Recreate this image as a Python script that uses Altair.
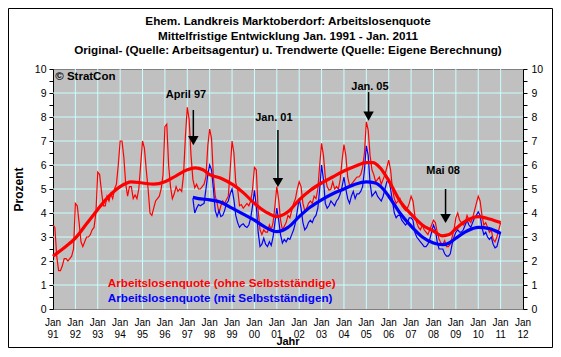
import altair as alt
import pandas as pd

# ---------------- data ----------------
red_start = 1991.0  # Jan 1991, monthly values (ohne Selbststaendige)
red_monthly = [
    3.5, 3.4, 2.2, 1.6, 1.6, 1.8, 2.1, 2.1, 2.0, 2.1, 2.2, 2.5,    # 1991
    4.4, 4.3, 3.6, 2.8, 2.6, 2.8, 3.0, 3.0, 3.1, 3.3, 3.4, 4.0,    # 1992
    5.7, 5.6, 4.9, 4.3, 4.3, 4.7, 4.5, 4.8, 4.6, 5.0, 5.2, 6.0,    # 1993
    7.0, 7.0, 6.3, 5.2, 4.7, 5.1, 5.1, 4.6, 4.75, 4.6, 5.0, 6.0,   # 1994
    7.0, 6.7, 5.8, 5.0, 4.0, 3.9, 4.2, 4.5, 4.6, 4.7, 5.0, 5.6,    # 1995
    7.6, 7.7, 6.0, 5.1, 4.6, 4.8, 5.1, 4.9, 5.0, 4.9, 5.6, 7.2,    # 1996
    8.4, 7.9, 6.4, 5.4, 5.05, 5.2, 5.0, 5.0, 5.1, 5.2, 5.5, 6.8,   # 1997
    7.5, 7.1, 5.5, 4.7, 4.4, 4.0, 4.3, 4.5, 4.4, 4.55, 4.7, 5.8,   # 1998
    7.0, 6.5, 5.25, 5.0, 4.3, 4.35, 4.2, 4.3, 4.4, 4.3, 4.5, 5.0,  # 1999
    5.9, 5.8, 4.1, 3.3, 3.1, 3.3, 3.2, 3.2, 3.5, 3.3, 3.6, 4.3,    # 2000
    5.1, 4.55, 3.7, 3.3, 3.45, 3.6, 3.9, 3.8, 4.1, 4.4, 4.6, 5.0,  # 2001
    5.3, 5.1, 4.4, 4.1, 4.2, 4.4, 4.5, 4.4, 4.7, 4.6, 5.0, 6.0,    # 2002
    6.9, 6.4, 5.5, 5.1, 4.95, 5.0, 5.3, 5.0, 5.1, 5.0, 5.4, 6.2,   # 2003
    6.85, 6.4, 5.5, 5.15, 5.2, 5.3, 5.4, 5.5, 5.5, 5.6, 5.9, 6.5,  # 2004
    7.8, 7.45, 6.4, 5.8, 5.6, 5.3, 5.4, 5.5, 5.2, 5.4, 5.6, 5.9,   # 2005
    6.2, 5.8, 5.0, 4.6, 4.4, 4.5, 4.6, 4.3, 4.2, 4.1, 4.2, 4.4,    # 2006
    4.7, 4.5, 3.9, 3.6, 3.4, 3.3, 3.5, 3.3, 3.2, 3.1, 3.3, 3.5,    # 2007
    3.7, 3.6, 3.2, 2.9, 2.75, 2.7, 2.85, 2.6, 2.6, 2.7, 3.0, 3.3,  # 2008
    3.8, 4.0, 3.7, 3.6, 3.5, 3.6, 3.9, 3.7, 3.6, 3.8, 4.1, 4.4,    # 2009
    4.7, 4.5, 3.9, 3.5, 3.6, 3.4, 3.2, 3.3, 2.9, 2.8, 3.0, 3.3,    # 2010
    3.6,                                                           # Jan 2011
]

blue_start = 1997.25  # Apr 1997, monthly values (mit Selbststaendigen)
blue_monthly = [
    4.6, 4.0, 4.2, 4.35, 4.3, 4.35, 4.4, 5.0, 5.6,                 # 1997 Apr-Dec
    6.0, 5.8, 5.0, 4.1, 3.85, 4.1, 3.85, 3.9, 4.1, 4.4, 4.5, 4.8,  # 1998
    5.0, 4.55, 3.9, 3.6, 3.4, 3.5, 3.55, 3.45, 3.4, 3.5, 3.8, 4.3, # 1999
    4.95, 4.3, 3.2, 2.6, 2.7, 2.95, 2.7, 2.6, 2.8, 2.65, 3.0, 3.6, # 2000
    4.2, 3.7, 3.1, 2.75, 2.9, 2.8, 2.95, 2.9, 3.1, 3.3, 3.6, 4.1,  # 2001
    4.6, 4.2, 3.6, 3.3, 3.4, 3.6, 3.7, 3.6, 3.8, 3.9, 4.2, 5.0,    # 2002
    6.0, 5.4, 4.4, 4.2, 4.3, 4.5, 4.4, 4.3, 4.5, 4.6, 4.8, 5.1,    # 2003
    5.5, 5.0, 4.6, 4.4, 4.7, 4.9, 4.6, 4.8, 4.8, 4.9, 5.1, 5.8,    # 2004
    6.8, 6.4, 5.25, 4.7, 4.8, 4.9, 4.7, 4.6, 4.5, 4.7, 5.0, 5.3,   # 2005
    5.4, 5.0, 4.5, 4.0, 3.8, 3.9, 3.9, 3.7, 3.6, 3.5, 3.6, 3.8,    # 2006
    3.8, 3.7, 3.2, 3.0, 2.9, 2.8, 2.7, 2.6, 2.6, 2.7, 2.9, 3.2,    # 2007
    3.5, 3.3, 2.8, 2.5, 2.5, 2.5, 2.3, 2.2, 2.2, 2.3, 2.7, 3.0,    # 2008
    3.2, 3.3, 3.2, 3.2, 3.3, 3.5, 3.7, 3.5, 3.4, 3.6, 3.8, 3.9,    # 2009
    4.05, 3.9, 3.4, 3.1, 3.2, 3.0, 2.9, 3.0, 2.7, 2.55, 2.6, 2.9,  # 2010
    3.2,                                                           # Jan 2011
]

red_trend_x = [1991.0, 1991.5, 1992.0, 1992.5, 1993.0, 1993.5, 1994.0, 1994.5,
               1995.0, 1995.5, 1996.0, 1996.5, 1997.0, 1997.35, 1997.7, 1998.0,
               1998.5, 1999.0, 1999.5, 2000.0, 2000.5, 2001.0, 2001.5, 2002.0,
               2002.5, 2003.0, 2003.5, 2004.0, 2004.5, 2005.0, 2005.3, 2005.6,
               2006.0, 2006.5, 2007.0, 2007.5, 2008.0, 2008.4, 2008.7, 2009.0,
               2009.5, 2010.0, 2010.5, 2011.0]
red_trend_y = [2.2, 2.55, 2.95, 3.55, 4.15, 4.7, 5.1, 5.3,
               5.25, 5.2, 5.3, 5.55, 5.8, 5.88, 5.8, 5.6,
               5.45, 5.2, 4.85, 4.4, 4.05, 3.85, 4.05, 4.55,
               4.95, 5.25, 5.5, 5.75, 5.95, 6.1, 6.1, 5.9,
               5.35, 4.5, 3.95, 3.5, 3.25, 3.05, 3.1, 3.35,
               3.7, 3.85, 3.75, 3.6]

blue_trend_x = [1997.25, 1997.5, 1998.0, 1998.5, 1999.0, 1999.5, 2000.0, 2000.5,
                2001.0, 2001.5, 2002.0, 2002.5, 2003.0, 2003.5, 2004.0, 2004.5,
                2005.0, 2005.4, 2005.75, 2006.0, 2006.5, 2007.0, 2007.5, 2008.0,
                2008.4, 2008.7, 2009.0, 2009.5, 2010.0, 2010.5, 2011.0]
blue_trend_y = [4.65, 4.6, 4.55, 4.45, 4.2, 3.95, 3.7, 3.4,
                3.22, 3.4, 3.85, 4.25, 4.55, 4.8, 5.0, 5.2,
                5.3, 5.25, 5.0, 4.7, 4.0, 3.45, 3.0, 2.75,
                2.68, 2.75, 2.95, 3.25, 3.4, 3.35, 3.15]

x_ticks = list(range(1991, 2013))
x_label_top = ["Jan"] * len(x_ticks)
x_label_bottom = ["91", "92", "93", "94", "95", "96", "97", "98", "99", "00", "01",
                  "02", "03", "04", "05", "06", "07", "08", "09", "10", "11", "12"]
y_ticks = [i / 2 for i in range(21)]
grid_years = list(range(1992, 2012))
grid_values = list(range(1, 10))

ann_labels = ["April 97", "Jan. 01", "Jan. 05", "Mai 08"]
ann_text_x = [1996.94, 2000.87, 2005.16, 2008.43]
ann_text_y = [8.92, 7.96, 9.25, 5.75]
arrow_x = [1997.27, 2001.05, 2005.1, 2008.54]
arrow_top = [8.29, 7.46, 9.04, 5.0]
arrow_base = [7.2, 5.46, 8.2, 3.96]
arrow_tip = [6.83, 5.08, 7.875, 3.58]

title_lines = ["Ehem. Landkreis Marktoberdorf: Arbeitslosenquote",
               "Mittelfristige Entwicklung Jan. 1991 - Jan. 2011",
               "Original- (Quelle: Arbeitsagentur) u. Trendwerte (Quelle: Eigene Berechnung)"]
x_title = "Jahr"
legend_labels = ["Arbeitslosenquote (ohne Selbstständige)",
                 "Arbeitslosenquote (mit Selbstständigen)"]
legend_colors = ["#FF0000", "#0000FF"]
legend_x = [1993.45, 1993.45]
legend_y = [1.08, 0.46]
copyright_text = ["© StratCon"]
copyright_x = [1991.1]
copyright_y = [9.67]

# ---------------- frames ----------------
df_red = pd.DataFrame({"x": [red_start + i / 12 for i in range(len(red_monthly))], "y": red_monthly})
df_blue = pd.DataFrame({"x": [blue_start + i / 12 for i in range(len(blue_monthly))], "y": blue_monthly})
df_rt = pd.DataFrame({"x": red_trend_x, "y": red_trend_y})
df_bt = pd.DataFrame({"x": blue_trend_x, "y": blue_trend_y})
df_ann = pd.DataFrame({"label": ann_labels, "tx": ann_text_x, "ty": ann_text_y,
                       "ax": arrow_x, "top": arrow_top, "base": arrow_base,
                       "head": [(b + t) / 2 for b, t in zip(arrow_base, arrow_tip)]})
df_leg = pd.DataFrame({"label": legend_labels, "x": legend_x, "y": legend_y, "c": legend_colors})
df_copy = pd.DataFrame({"label": copyright_text, "x": copyright_x, "y": copyright_y})
df_xlab = pd.DataFrame({"x": x_ticks, "top": x_label_top, "bottom": x_label_bottom})

FONT = "Liberation Sans"
xs = alt.Scale(domain=[1991, 2012], nice=False, zero=False)
ys = alt.Scale(domain=[0, 10], nice=False, zero=True)

X_none = alt.X("x:Q", scale=xs, axis=None)
Y_none = alt.Y("y:Q", scale=ys, axis=None)

x_axis = alt.Axis(values=x_ticks, grid=False, tickSize=5, tickColor="black",
                  domainColor="black", labels=False, title=None)
y_left = alt.Axis(values=y_ticks, grid=False, tickSize=4, tickColor="black",
                  domainColor="black", labelColor="black", labelFontSize=10.5,
                  labelFont=FONT, labelPadding=3,
                  labelExpr="datum.value % 1 == 0 ? format(datum.value, 'd') : ''",
                  title="Prozent", titleFont=FONT, titleFontSize=12, titleFontWeight="bold",
                  titleColor="black", titleX=-35, titleY=120, titleAngle=270,
                  titleAlign="center", titleBaseline="middle")
y_right = alt.Axis(orient="right", values=y_ticks, grid=False, tickSize=4, tickColor="black",
                   domainColor="black", labelColor="black", labelFontSize=10.5,
                   labelFont=FONT, labelPadding=4,
                   labelExpr="datum.value % 1 == 0 ? format(datum.value, 'd') : ''", title=None)

grid_v = alt.Chart(pd.DataFrame({"x": grid_years})).mark_rule(
    color="#C8FFFF", strokeWidth=1).encode(x=alt.X("x:Q", scale=xs, axis=x_axis))
grid_h = alt.Chart(pd.DataFrame({"y": grid_values})).mark_rule(
    color="#C8FFFF", strokeWidth=1).encode(y=alt.Y("y:Q", scale=ys, axis=y_left))

red_line = alt.Chart(df_red).mark_line(color="#FF0000", strokeWidth=1.2).encode(
    x=X_none, y=Y_none)
blue_line = alt.Chart(df_blue).mark_line(color="#0000FF", strokeWidth=1.2).encode(
    x=X_none, y=alt.Y("y:Q", scale=ys, axis=y_right))
red_trend = alt.Chart(df_rt).mark_line(color="#FF0000", strokeWidth=3.2,
                                       interpolate="monotone").encode(x=X_none, y=Y_none)
blue_trend = alt.Chart(df_bt).mark_line(color="#0000FF", strokeWidth=3.2,
                                        interpolate="monotone").encode(x=X_none, y=Y_none)

arrows = alt.Chart(df_ann).mark_rule(color="black", strokeWidth=1.5).encode(
    x=alt.X("ax:Q", scale=xs, axis=None),
    y=alt.Y("top:Q", scale=ys, axis=None), y2="base:Q")
heads = alt.Chart(df_ann).mark_point(shape="triangle-down", filled=True, color="black",
                                     opacity=1, size=110).encode(
    x=alt.X("ax:Q", scale=xs, axis=None), y=alt.Y("head:Q", scale=ys, axis=None))
ann_text = alt.Chart(df_ann).mark_text(font=FONT, fontSize=11, fontWeight="bold",
                                       color="black", align="center", baseline="middle").encode(
    x=alt.X("tx:Q", scale=xs, axis=None), y=alt.Y("ty:Q", scale=ys, axis=None), text="label:N")
leg_text = alt.Chart(df_leg).mark_text(font=FONT, fontSize=11.7, fontWeight="bold",
                                       align="left", baseline="middle").encode(
    x=alt.X("x:Q", scale=xs, axis=None), y=alt.Y("y:Q", scale=ys, axis=None),
    text="label:N", color=alt.Color("c:N", scale=None))
copy_text = alt.Chart(df_copy).mark_text(font=FONT, fontSize=11.5, fontWeight="bold",
                                         color="black", align="left", baseline="middle").encode(
    x=alt.X("x:Q", scale=xs, axis=None), y=alt.Y("y:Q", scale=ys, axis=None), text="label:N")

# x tick labels ("Jan" / "91") drawn through the x scale, below the plot area
xlab_top = alt.Chart(df_xlab).mark_text(font=FONT, fontSize=10, color="black",
                                        align="center", baseline="middle").encode(
    x=alt.X("x:Q", scale=xs, axis=None), y=alt.value(254), text="top:N")
xlab_bottom = alt.Chart(df_xlab).mark_text(font=FONT, fontSize=10, color="black",
                                           align="center", baseline="middle").encode(
    x=alt.X("x:Q", scale=xs, axis=None), y=alt.value(266), text="bottom:N")
xtitle = alt.Chart(pd.DataFrame({"k": [0]})).mark_text(
    text=x_title, font=FONT, fontSize=11, fontWeight="bold", color="black",
    align="center", baseline="middle").encode(x=alt.value(235), y=alt.value(273))

title_text = alt.Chart(pd.DataFrame({"k": [0]})).mark_text(
    text=title_lines, font=FONT, fontSize=11.7, fontWeight="bold", color="black",
    align="center", baseline="middle", lineHeight=14.5).encode(
    x=alt.value(235), y=alt.value(-48))

border = alt.Chart(pd.DataFrame({"k": [0]})).mark_rect(
    fill=None, fillOpacity=0, stroke="black", strokeWidth=1).encode(
    x=alt.value(-44.5), x2=alt.value(499.5), y=alt.value(-60.5), y2=alt.value(278.5))

chart = alt.layer(
    grid_v, grid_h, red_line, blue_line, red_trend, blue_trend,
    arrows, heads, ann_text, leg_text, copy_text,
    xlab_top, xlab_bottom, xtitle, title_text, border
).resolve_axis(y="independent").properties(
    width=470, height=240,
    autosize=alt.AutoSizeParams(type="none"),
    padding={"left": 45, "top": 61, "right": 30, "bottom": 40},
    background="white",
).configure_view(fill="#C0C0C0", stroke="#808080", strokeWidth=1)

chart.save("out.html", embed_options={"renderer": "svg", "actions": False})
